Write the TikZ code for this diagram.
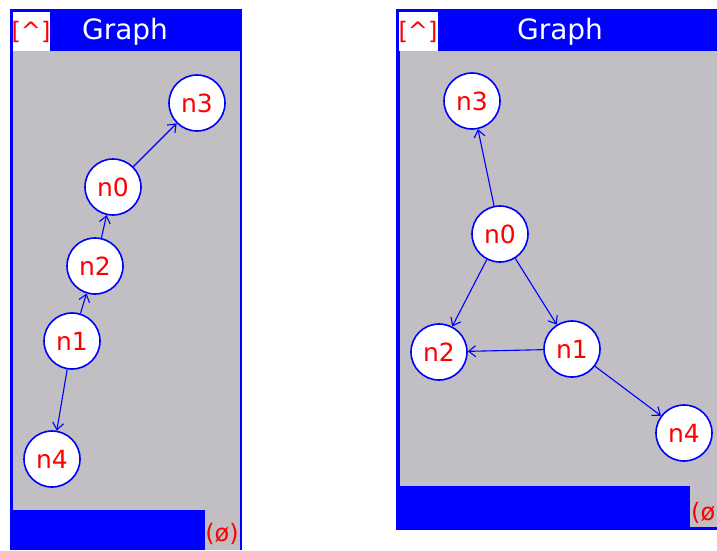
\documentclass[tikz,border=0pt]{standalone}
\usepackage{fontspec}
\setmainfont{DejaVu Sans}
\usepackage{color}
\definecolor{myblue}{RGB}{0,0,255}
\definecolor{mygray}{RGB}{193,191,195}
\definecolor{myred}{RGB}{255,0,0}
\usepackage{tikz}
\usetikzlibrary{arrows.meta,positioning}
\tikzstyle{vertex}=[draw=myblue,fill=white,circle,line width=1.6pt,minimum size=56pt,inner sep=0pt,text=myred,font=\fontsize{25}{25}\selectfont]
\tikzstyle{edge}=[myblue,line width=1.1pt,-{Straight Barb[length=7pt,width=11pt]}]
\tikzstyle{caption}=[inner sep=0pt,font=\fontsize{28}{28}\selectfont]
\tikzstyle{corner}=[inner sep=0pt,text=myred,font=\fontsize{24}{24}\selectfont]

\begin{document}
\begin{tikzpicture}[x=1pt,y=-1pt]
\useasboundingbox (0,0) rectangle (717,550);
\clip (0,0) rectangle (717,550);
% left window
\fill[myblue] (10,9) rectangle (242,550);
\fill[mygray] (13,51) rectangle (240,510);
\fill[mygray] (205,510) rectangle (240,550);
\fill[white] (13,12) rectangle (50,51);
\node [corner] (lbtn) at (31,32) {[\textasciicircum]};
\node [caption, text=white] (ltitle) at (125,32) {Graph};
\node [corner] (lempty) at (222,534) {(ø)};
\node [vertex] (l3) at (197,103) {n3};
\node [vertex] (l0) at (113,187) {n0};
\node [vertex] (l2) at (95,266) {n2};
\node [vertex] (l1) at (72,341) {n1};
\node [vertex] (l4) at (52,459) {n4};
\draw [edge] (l0) -- (l3);
\draw [edge] (l2) -- (l0);
\draw [edge] (l1) -- (l2);
\draw [edge] (l1) -- (l4);
% right window
\fill[myblue] (396,9) rectangle (720,530);
\fill[mygray] (400,51) rectangle (720,486);
\fill[mygray] (690,486) rectangle (720,527);
\fill[white] (399,12) rectangle (438,51);
\node [corner] (rbtn) at (418,32) {[\textasciicircum]};
\node [caption, text=white] (rtitle) at (560,32) {Graph};
\node [corner, anchor=west] (rempty) at (691,513) {(ø)};
\node [vertex] (r3) at (472,101) {n3};
\node [vertex] (r0) at (500,234) {n0};
\node [vertex] (r2) at (439,352) {n2};
\node [vertex] (r1) at (572,349) {n1};
\node [vertex] (r4) at (684,433) {n4};
\draw [edge] (r0) -- (r3);
\draw [edge] (r0) -- (r2);
\draw [edge] (r0) -- (r1);
\draw [edge] (r1) -- (r2);
\draw [edge] (r1) -- (r4);
\end{tikzpicture}
\end{document}
